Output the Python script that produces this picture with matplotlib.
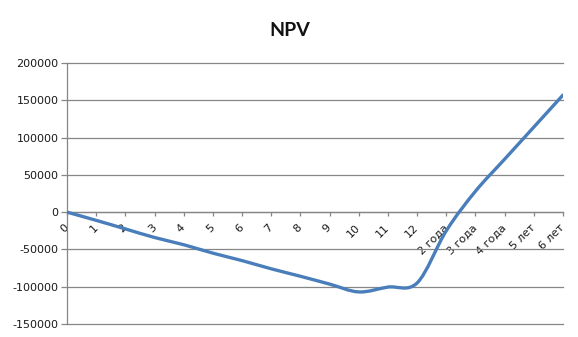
import matplotlib
matplotlib.use("Agg")
import matplotlib.pyplot as plt
from matplotlib.path import Path
from matplotlib.patches import PathPatch
import numpy as np

categories = ["0", "1", "2", "3", "4", "5", "6", "7", "8", "9", "10", "11", "12",
              "2 года", "3 года", "4 года", "5 лет", "6 лет"]
npv = [0, -11000, -22500, -34000, -43700, -55000, -65000, -76000, -86000,
       -96500, -107000, -100500, -95000, -25000, 28000, 71000, 114000, 157000]
y_ticks = [-150000, -100000, -50000, 0, 50000, 100000, 150000, 200000]

plt.rcParams['font.family'] = ['DejaVu Sans']
fig = plt.figure(figsize=(5.78, 3.37), dpi=100)
ax = fig.add_axes([0.1159, 0.0386, 0.8581, 0.7745])

x = np.arange(len(categories))
y = np.array(npv, dtype=float)

# smoothed line (Catmull-Rom -> cubic Bezier), like Excel's smoothed line
verts = [(x[0], y[0])]
codes = [Path.MOVETO]
n = len(x)
for i in range(n - 1):
    p0 = np.array([x[max(i - 1, 0)], y[max(i - 1, 0)]])
    p1 = np.array([x[i], y[i]])
    p2 = np.array([x[i + 1], y[i + 1]])
    p3 = np.array([x[min(i + 2, n - 1)], y[min(i + 2, n - 1)]])
    c1 = p1 + (p2 - p0) / 6.0
    c2 = p2 - (p3 - p1) / 6.0
    verts += [tuple(c1), tuple(c2), tuple(p2)]
    codes += [Path.CURVE4, Path.CURVE4, Path.CURVE4]
patch = PathPatch(Path(verts, codes), facecolor='none', edgecolor='#4A7EBB',
                  lw=2.4, capstyle='round', joinstyle='round', zorder=3)
ax.add_patch(patch)

ax.set_xlim(0, len(categories) - 1)
ax.set_ylim(-150000, 200000)
ax.set_yticks(y_ticks)
ax.set_xticks(x)

ax.grid(axis='y', color='#868686', lw=0.9)
ax.set_axisbelow(True)
for s in ['top', 'right']:
    ax.spines[s].set_visible(False)
ax.spines['bottom'].set_position(('data', 0))
ax.spines['bottom'].set_color('#868686')
ax.spines['left'].set_color('#868686')
ax.spines['bottom'].set_linewidth(0.9)
ax.spines['left'].set_linewidth(0.9)
ax.tick_params(axis='x', direction='out', length=3, width=0.9, color='#868686', pad=7)
ax.tick_params(axis='y', direction='out', length=4, width=0.9, color='#868686', pad=2)

ax.set_yticklabels([str(v) for v in y_ticks], fontsize=8, color='#1a1a1a')
ax.set_xticklabels(categories, fontsize=8, color='#1a1a1a', rotation=45,
                   ha='right', va='center', rotation_mode='anchor')
for gl in ax.get_ygridlines():
    gl.set_clip_on(False)

fig.text(0.502, 0.91, "NPV", ha='center', va='center', fontsize=14,
         fontweight='bold', family=['Lato', 'DejaVu Sans'], color='#111111')

fig.savefig("out.png", dpi=100, facecolor='white')
